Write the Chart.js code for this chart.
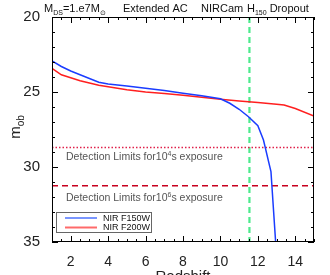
<!DOCTYPE html>
<html>
<head>
<meta charset="utf-8">
<script src="https://cdn.jsdelivr.net/npm/chart.js@4/dist/chart.umd.min.js"></script>
<style>
  html, body { margin: 0; padding: 0; background: #fff; }
  #wrap { width: 330px; height: 275px; }
</style>
</head>
<body>
<div id="wrap"><canvas id="c" width="330" height="275"></canvas></div>
<script>
// redshift grid + apparent magnitudes
const zF150 = [1, 1.5, 2, 2.5, 3, 3.5, 4, 5, 6, 7, 8, 9, 10, 10.5, 11, 11.5, 12, 12.3, 12.7, 12.95, 13.1];
const magF150 = [22.93, 23.3, 23.6, 23.85, 24.1, 24.35, 24.47, 24.6, 24.75, 24.9, 25.08, 25.25, 25.45, 25.75, 26.15, 26.65, 27.25, 28.2, 30.3, 35, 37];
const zF200 = [1, 1.5, 2, 2.5, 3, 3.5, 4, 5, 6, 7, 8, 9, 10, 11, 12, 13, 13.4, 14, 15];
const magF200 = [23.42, 23.85, 24.05, 24.25, 24.4, 24.55, 24.65, 24.85, 25.0, 25.1, 25.22, 25.35, 25.48, 25.6, 25.7, 25.82, 25.87, 26.1, 26.6];

const limit1e4 = 28.7;   // dotted
const limit1e6 = 31.25;  // dashed
const zDropout = 11.55;  // green vertical

const xRange = [1, 15];
const yRange = [20, 35];
const xTickLabels = [2, 4, 6, 8, 10, 12, 14];
const yTickLabels = [20, 25, 30, 35];

const FONT = '"Liberation Sans", Arial, sans-serif';

const pts = (xs, ys) => xs.map((x, i) => ({ x, y: ys[i] }));

// frame, inward ticks, texts with sub/superscripts, legend
const decor = {
  id: 'decor',
  afterDatasetsDraw(chart) {
    const { ctx, chartArea: a, scales: { x, y } } = chart;
    ctx.save();
    ctx.strokeStyle = '#000';
    ctx.lineWidth = 1;
    ctx.strokeRect(a.left + 0.5, a.top + 0.5, a.right - a.left - 1, a.bottom - a.top - 1);

    ctx.beginPath();
    for (let v = xRange[0]; v <= xRange[1] + 1e-6; v += 0.5) {
      const px = Math.round(x.getPixelForValue(v)) + 0.5;
      const len = (v % 2 === 0) ? 6 : 3;
      ctx.moveTo(px, a.bottom); ctx.lineTo(px, a.bottom - len);
      ctx.moveTo(px, a.top); ctx.lineTo(px, a.top + len);
    }
    for (let v = yRange[0]; v <= yRange[1]; v += 1) {
      const py = Math.round(y.getPixelForValue(v)) + 0.5;
      const len = (v % 5 === 0) ? 6 : 3;
      ctx.moveTo(a.left, py); ctx.lineTo(a.left + len, py);
      ctx.moveTo(a.right, py); ctx.lineTo(a.right - len, py);
    }
    ctx.stroke();

    // helper: draw pieces [text, 'n'|'sub'|'sup'] sequentially
    const rich = (parts, x0, y0, size, color) => {
      let cx = x0;
      ctx.fillStyle = color;
      ctx.textBaseline = 'alphabetic';
      ctx.textAlign = 'left';
      for (const [t, k] of parts) {
        const s = k === 'n' ? size : Math.round(size * 0.65);
        const dy = k === 'sub' ? size * 0.25 : k === 'sup' ? -size * 0.4 : 0;
        ctx.font = s + 'px ' + FONT;
        ctx.fillText(t, cx, y0 + dy);
        cx += ctx.measureText(t).width;
      }
    };

    // title
    rich([['M', 'n'], ['DS', 'sub'], ['=1.e7M', 'n'], ['\u2299', 'sub']], 44, 12, 11, '#111');
    rich([['Extended AC', 'n']], 123, 12, 11, '#111');
    rich([['NIRCam', 'n']], 201, 12, 11, '#111');
    rich([['H', 'n'], ['150', 'sub'], [' Dropout', 'n']], 247, 12, 11, '#111');

    // detection limit notes
    rich([['Detection Limits for10', 'n'], ['4', 'sup'], ['s exposure', 'n']], 66, 160, 10.5, '#555');
    rich([['Detection Limits for10', 'n'], ['6', 'sup'], ['s exposure', 'n']], 66, 201, 10.5, '#555');

    // y axis title, rotated
    ctx.save();
    ctx.translate(20, 127);
    ctx.rotate(-Math.PI / 2);
    const mw = (ctx.font = '15px ' + FONT, ctx.measureText('m').width);
    ctx.font = '10px ' + FONT;
    const sw = ctx.measureText('ob').width;
    rich([['m', 'n'], ['ob', 'sub']], -(mw + sw) / 2, 0, 15, '#222');
    ctx.restore();

    // x axis title (partly below the canvas like the original)
    ctx.font = '15px ' + FONT;
    ctx.fillStyle = '#222';
    ctx.textAlign = 'center';
    ctx.textBaseline = 'alphabetic';
    ctx.fillText('Redshift', (a.left + a.right) / 2, 281);

    // legend box
    ctx.strokeStyle = '#666';
    ctx.strokeRect(56.5, 212.5, 95, 20);
    const items = chart.data.datasets.filter(d => d.legend);
    items.forEach((d, i) => {
      const ly = 218 + i * 9.5;
      ctx.strokeStyle = d.legendColor;
      ctx.lineWidth = 2;
      ctx.beginPath(); ctx.moveTo(65, ly); ctx.lineTo(97, ly); ctx.stroke();
      ctx.font = '9px ' + FONT;
      ctx.fillStyle = '#111';
      ctx.textAlign = 'left';
      ctx.textBaseline = 'middle';
      ctx.fillText(d.label, 103, ly + 0.5);
    });
    ctx.restore();
  }
};

new Chart(document.getElementById('c'), {
  type: 'scatter',
  data: {
    datasets: [
      { label: 'NIR F150W', data: pts(zF150, magF150), showLine: true, borderColor: '#1a3cff', borderWidth: 1.5, pointRadius: 0, legend: true, legendColor: '#7a96ff' },
      { label: 'NIR F200W', data: pts(zF200, magF200), showLine: true, borderColor: '#ff1f1f', borderWidth: 1.5, pointRadius: 0, legend: true, legendColor: '#ff6a6a' },
      { label: '1e4', data: pts(xRange, [limit1e4, limit1e4]), showLine: true, borderColor: '#e0204a', borderWidth: 1.5, borderDash: [1.5, 2], pointRadius: 0 },
      { label: '1e6', data: pts(xRange, [limit1e6, limit1e6]), showLine: true, borderColor: '#c8001e', borderWidth: 1.5, borderDash: [6, 4], pointRadius: 0 },
      { label: 'dropout', data: pts([zDropout, zDropout], yRange), showLine: true, borderColor: '#4dea8c', borderWidth: 2.2, borderDash: [6, 4], pointRadius: 0 }
    ]
  },
  options: {
    responsive: false,
    animation: false,
    layout: { padding: { top: 17, right: 16, left: 0, bottom: 0 } },
    plugins: { legend: { display: false }, tooltip: { enabled: false } },
    scales: {
      x: {
        type: 'linear', min: xRange[0], max: xRange[1],
        afterFit: s => { s.height = 33; },
        afterBuildTicks: s => { s.ticks = xTickLabels.map(v => ({ value: v })); },
        grid: { display: false },
        border: { display: false },
        ticks: { font: { family: FONT, size: 14 }, color: '#222', padding: 4, maxRotation: 0 }
      },
      y: {
        type: 'linear', reverse: true, min: yRange[0], max: yRange[1],
        afterFit: s => { s.width = 52; },
        afterBuildTicks: s => { s.ticks = yTickLabels.map(v => ({ value: v })); },
        grid: { display: false },
        border: { display: false },
        ticks: { font: { family: FONT, size: 15 }, color: '#222', padding: 4 }
      }
    }
  },
  plugins: [decor]
});
</script>
</body>
</html>
